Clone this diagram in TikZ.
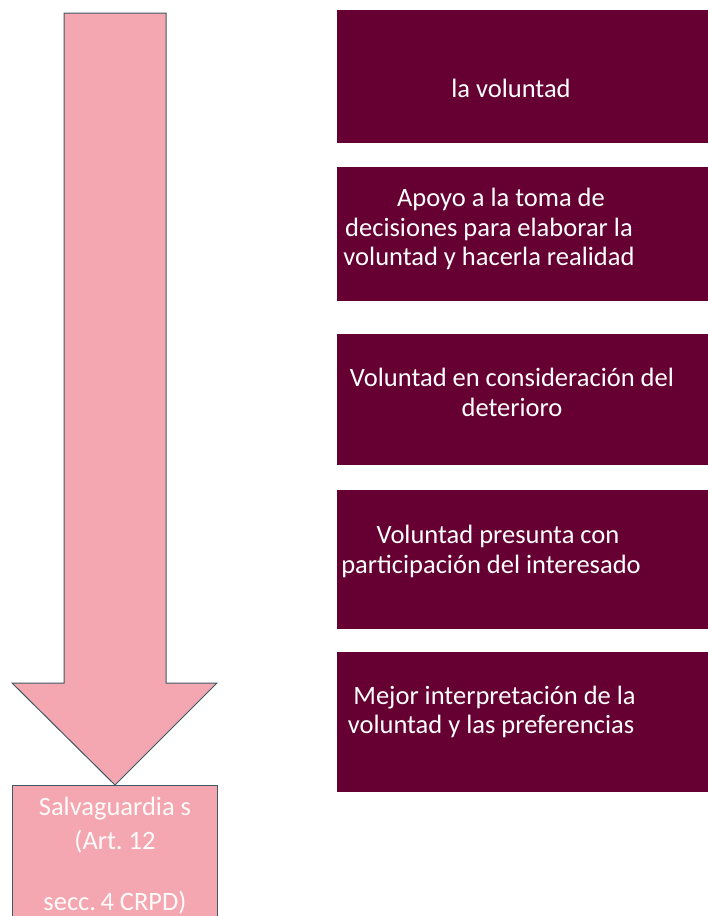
\documentclass[tikz,border=0pt]{standalone}
\usepackage{fontspec}
\setmainfont{Carlito}
\definecolor{vino}{HTML}{660033}
\definecolor{rosa}{HTML}{F4A7B0}
\definecolor{borde}{HTML}{3E5A63}
\tikzset{
  caja/.style={fill=vino, draw=none, inner sep=0pt},
  texto/.style={text=white, align=center, inner sep=0pt, font=\fontsize{26.5}{29.5}\selectfont},
  salva/.style={fill=rosa, draw=borde, line width=1pt, inner sep=0pt, anchor=north west,
    minimum width=205pt, minimum height=133pt}
}
\begin{document}
\begin{tikzpicture}[x=1pt, y=-1pt, line join=miter]
			\useasboundingbox (0,0) rectangle (708,916);
			% flecha grande
			\draw[fill=rosa, draw=borde, line width=1pt] (64,13)--(166,13)--(166,683)--(217,683)--(115,785)--(12,683)--(64,683)--cycle;
			\node[salva] (sal) at (12,785) {};
			\node[texto, text=white!95!rosa, font=\fontsize{26.5}{34}\selectfont] (tsal) at (115,856) {Salvaguardia s\\(Art.\ 12\\[27pt]secc.\,4 CRPD)};
			% cajas de la derecha
			\foreach \n/\ya/\yb in {1/10/143, 2/167/301, 3/334/465, 4/490/629, 5/652/792}
				\fill[vino] (337,\ya) rectangle (708,\yb) coordinate (c\n);
			\node[texto] (t1) at (511,88) {la voluntad};
			\node[texto] (t2) at (489,229) {\hspace{24pt}Apoyo a la toma de\\decisiones para elaborar la\\voluntad y hacerla realidad};
			\node[texto] (t3) at (512,392.5) {Voluntad en consideración del\\deterioro\hspace{40pt}};
			\node[texto] (t4) at (491,551.5) {\hspace{14pt}Voluntad presunta con\\participación del interesado};
			\node[texto] (t5) at (491,712) {\hspace{7pt}Mejor interpretación de la\\voluntad y las preferencias};
		\end{tikzpicture}
\end{document}
